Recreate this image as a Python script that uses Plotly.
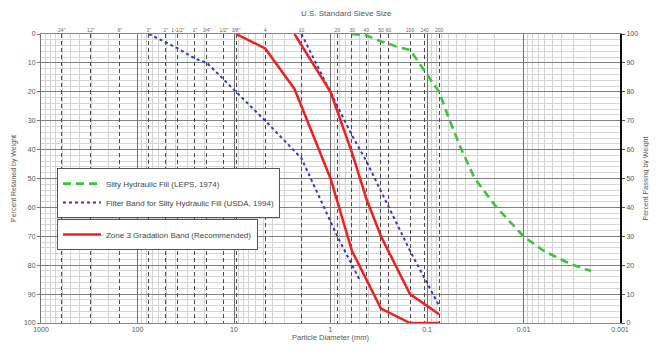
import plotly.graph_objects as go

# ---------------- data ----------------
sieve_labels = ['24"', '12"', '6"', '3"', '2"', '1-1/2"', '1"', '3/4"', '1/2"', '3/8"',
                '4', '10', '20', '30', '40', '50', '60', '100', '140', '200']
sieve_mm = [609.6, 304.8, 152.4, 76.2, 50.8, 38.1, 25.4, 19.05, 12.7, 9.525,
            4.75, 2.0, 0.85, 0.6, 0.425, 0.3, 0.25, 0.15, 0.106, 0.075]

x_ticks = [1000, 100, 10, 1, 0.1, 0.01, 0.001]
x_ticktext = ["1000", "100", "10", "1", "0.1", "0.01", "0.001"]

# Silty Hydraulic Fill (LEPS, 1974) - percent retained
silty_d = [0.6, 0.425, 0.3, 0.2, 0.15, 0.1, 0.075, 0.058, 0.044, 0.032, 0.019, 0.01, 0.0062, 0.0033, 0.002]
silty_ret = [0, 0.5, 2.5, 4.5, 5.5, 14, 20, 30, 40, 50, 60, 70, 75, 79.5, 82]

# Filter band (USDA, 1994) - coarse and fine limits
filt_c_d = [76.2, 38.1, 25.4, 19.05, 9.525, 4.75, 2.0, 0.85, 0.5]
filt_c_ret = [0, 5, 8.5, 10, 20, 30, 43, 70, 85]
filt_f_d = [2.0, 1.0, 0.6, 0.425, 0.25, 0.15, 0.075]
filt_f_ret = [0, 20, 35, 44, 60, 75, 94]

# Zone 3 gradation band (recommended)
zone_c_d = [9.525, 4.75, 2.36, 1.0, 0.6, 0.3, 0.15, 0.075]
zone_c_ret = [0, 5, 19, 50, 75, 95, 100, 100]
zone_f_d = [2.36, 1.0, 0.6, 0.425, 0.3, 0.15, 0.075]
zone_f_ret = [0, 20, 41, 57, 70, 90, 97]

y_ticks = list(range(0, 101, 10))

# ---------------- figure ----------------
FONT = "Liberation Sans, Arial, sans-serif"
TXT = "#555555"
GREEN = "#3cc43c"
BLUE = "#3535d0"
RED = "#ee2020"

fig = go.Figure()

fig.add_trace(go.Scatter(x=silty_d, y=silty_ret, mode="lines",
                         name="Silty Hydraulic Fill (LEPS, 1974)",
                         line=dict(color=GREEN, width=2.6, dash="8px,5px"),
                         legend="legend", hoverinfo="skip"))
fig.add_trace(go.Scatter(x=filt_c_d, y=filt_c_ret, mode="lines",
                         name="Filter Band for Silty Hydraulic Fill (USDA, 1994)",
                         line=dict(color=BLUE, width=2, dash="dot"),
                         legend="legend", legendgroup="filt", hoverinfo="skip"))
fig.add_trace(go.Scatter(x=filt_f_d, y=filt_f_ret, mode="lines",
                         name="Filter Band for Silty Hydraulic Fill (USDA, 1994)",
                         line=dict(color=BLUE, width=2, dash="dot"),
                         legend="legend", legendgroup="filt", showlegend=False, hoverinfo="skip"))
fig.add_trace(go.Scatter(x=zone_c_d, y=zone_c_ret, mode="lines",
                         name="Zone 3 Gradation Band (Recommended)",
                         line=dict(color=RED, width=2.5),
                         legend="legend2", legendgroup="zone", hoverinfo="skip"))
fig.add_trace(go.Scatter(x=zone_f_d, y=zone_f_ret, mode="lines",
                         name="Zone 3 Gradation Band (Recommended)",
                         line=dict(color=RED, width=2.5),
                         legend="legend2", legendgroup="zone", showlegend=False, hoverinfo="skip"))

# helper traces so the top sieve axis and right passing axis are drawn
fig.add_trace(go.Scatter(x=sieve_mm, y=[None] * len(sieve_mm), xaxis="x2", yaxis="y",
                         mode="markers", showlegend=False, hoverinfo="skip"))
fig.add_trace(go.Scatter(x=[1], y=[None], xaxis="x", yaxis="y2",
                         mode="markers", showlegend=False, hoverinfo="skip"))

minor_x = []
for dec in [100, 10, 1, 0.1, 0.01, 0.001]:
    for m in range(2, 10):
        minor_x.append(dec * m)

# the page body adds an 8px offset, so the figure is sized/margined to compensate
fig.update_layout(
    width=649, height=339,
    margin=dict(l=33, r=37, t=26, b=24),
    paper_bgcolor="white", plot_bgcolor="white",
    font=dict(family=FONT, size=7, color=TXT),
    xaxis=dict(
        type="log", range=[3, -3], tickvals=x_ticks, ticktext=x_ticktext,
        showgrid=True, gridcolor="#707070", gridwidth=1.4,
        minor=dict(tickvals=minor_x, showgrid=True, gridcolor="#d2d2d2", gridwidth=0.8),
        showline=True, linecolor="#888888", linewidth=1, mirror=True,
        ticks="", zeroline=False, tickfont=dict(size=7, color=TXT),
        title=dict(text="Particle Diameter (mm)", font=dict(size=7.5, color=TXT), standoff=1),
        automargin=False,
    ),
    xaxis2=dict(
        type="log", range=[3, -3], overlaying="x", side="top",
        tickvals=sieve_mm, ticktext=sieve_labels, tickangle=0,
        showgrid=True, gridcolor="#4a4a4a", gridwidth=1, griddash="4px,3px",
        ticks="", showline=False, zeroline=False,
        tickfont=dict(size=5, color="#666666"), automargin=False,
    ),
    yaxis=dict(
        range=[100, 0], tickvals=y_ticks,
        showgrid=True, gridcolor="#808080", gridwidth=1.4,
        minor=dict(dtick=2, showgrid=True, gridcolor="#d6d6d6", gridwidth=0.8),
        showline=True, linecolor="#777777", linewidth=1,
        ticks="outside", ticklen=3, tickcolor="#777777", zeroline=False,
        tickfont=dict(size=7, color=TXT),
        title=dict(text="Percent Retained by Weight", font=dict(size=7, color=TXT), standoff=6),
        automargin=False,
    ),
    yaxis2=dict(
        range=[0, 100], tickvals=y_ticks, overlaying="y", side="right",
        showgrid=False, showline=True, linecolor="#111111", linewidth=2,
        ticks="outside", ticklen=3, tickcolor="#555555", zeroline=False,
        tickfont=dict(size=7, color=TXT),
        title=dict(text="Percent Passing by Weight", font=dict(size=7, color=TXT), standoff=6),
        automargin=False,
    ),
    legend=dict(x=0.0276, y=0.536, xanchor="left", yanchor="top",
                bgcolor="white", bordercolor="#555555", borderwidth=1,
                font=dict(size=8, color="#444444"), tracegroupgap=0,
                itemwidth=38),
    legend2=dict(x=0.0276, y=0.36, xanchor="left", yanchor="top",
                 bgcolor="white", bordercolor="#555555", borderwidth=1,
                 font=dict(size=8, color="#444444"), itemwidth=38),
    annotations=[dict(text="U.S. Standard Sieve Size", xref="paper", yref="paper",
                      x=0.527, y=1.072, xanchor="center", yanchor="middle",
                      showarrow=False, font=dict(size=8, color="#555555"))],
)

fig.write_html("out.html")
